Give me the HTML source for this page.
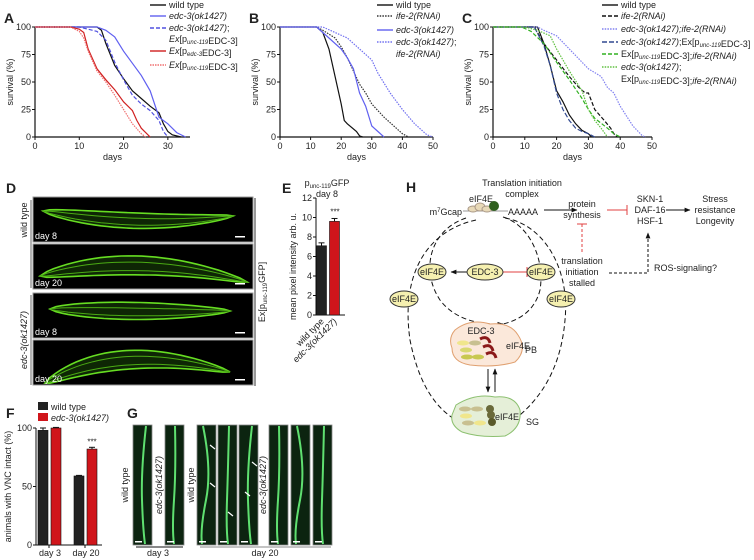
<!DOCTYPE html>
<html><head><meta charset="utf-8"><style>
body{margin:0;background:#fff}
svg{display:block;font-family:"Liberation Sans",sans-serif}
text{fill:#222}
</style></head><body>
<svg id="fig" width="754" height="560" viewBox="0 0 754 560">
<defs>
<marker id="ah" viewBox="0 0 10 10" refX="9" refY="5" markerWidth="6" markerHeight="6" orient="auto"><path d="M0,1 L10,5 L0,9 z" fill="#111"/></marker>
</defs>
<g id="A"></g>
<g id="B"></g>
<g id="C"></g>
<g id="D"></g>
<g id="E"></g>
<g id="F"></g>
<g id="G"></g>
<g id="H">
 <text x="406" y="192" font-size="14" font-weight="bold">H</text>
 <text x="522" y="186" font-size="9" text-anchor="middle">Translation initiation</text>
 <text x="522" y="197" font-size="9" text-anchor="middle">complex</text>
 <text x="481" y="202" font-size="9" text-anchor="middle">eIF4E</text>
 <text x="462" y="215" font-size="9" text-anchor="end">m<tspan font-size="6" dy="-3">7</tspan><tspan dy="3">Gcap</tspan></text>
 <line x1="463" y1="211" x2="508" y2="211" stroke="#999" stroke-width="1"/>
 <ellipse cx="473" cy="209" rx="5" ry="3" fill="#e8d9b8" stroke="#a98"/><ellipse cx="480" cy="207" rx="5" ry="4" fill="#e8d9b8" stroke="#a98"/><ellipse cx="487" cy="209" rx="5" ry="3" fill="#e8d9b8" stroke="#a98"/>
 <circle cx="494" cy="206" r="5" fill="#2f5f1f"/>
 <text x="508" y="215" font-size="9">AAAAA</text>
 <line x1="544" y1="210" x2="577" y2="210" stroke="#111" marker-end="url(#ah)"/>
 <text x="582" y="207" font-size="9" text-anchor="middle">protein</text>
 <text x="582" y="218" font-size="9" text-anchor="middle">synthesis</text>
 <line x1="607" y1="210" x2="627" y2="210" stroke="#e04040"/><line x1="627" y1="205" x2="627" y2="215" stroke="#e04040"/>
 <text x="650" y="202" font-size="9" text-anchor="middle">SKN-1</text>
 <text x="650" y="213" font-size="9" text-anchor="middle">DAF-16</text>
 <text x="650" y="224" font-size="9" text-anchor="middle">HSF-1</text>
 <line x1="666" y1="210" x2="690" y2="210" stroke="#111" marker-end="url(#ah)"/>
 <text x="715" y="202" font-size="9" text-anchor="middle">Stress</text>
 <text x="715" y="213" font-size="9" text-anchor="middle">resistance</text>
 <text x="715" y="224" font-size="9" text-anchor="middle">Longevity</text>
 <line x1="582" y1="224" x2="582" y2="252" stroke="#e04040" stroke-dasharray="3,2"/><line x1="577" y1="224" x2="587" y2="224" stroke="#e04040"/>
 <text x="582" y="264" font-size="9" text-anchor="middle">translation</text>
 <text x="582" y="275" font-size="9" text-anchor="middle">initiation</text>
 <text x="582" y="286" font-size="9" text-anchor="middle">stalled</text>
 <polyline points="609,273 648,273 648,233" fill="none" stroke="#111" stroke-dasharray="3,2" marker-end="url(#ah)"/>
 <text x="654" y="271" font-size="9">ROS-signaling?</text>
 <path d="M466,218 C430,230 420,270 440,300 C455,320 480,325 503,324" fill="none" stroke="#111" stroke-dasharray="5,3" marker-end="url(#ah)"/>
 <path d="M503,217 C530,225 545,260 540,290 C535,310 520,320 503,324" fill="none" stroke="#111" stroke-dasharray="5,3"/>
 <path d="M476,220 C430,230 400,270 410,340 C420,390 440,415 468,426" fill="none" stroke="#111" stroke-dasharray="5,3"/>
 <path d="M505,218 C545,225 570,270 565,320 C560,380 530,410 505,426" fill="none" stroke="#111" stroke-dasharray="5,3" marker-end="url(#ah)"/>
 <line x1="477" y1="272" x2="451" y2="272" stroke="#111" marker-end="url(#ah)"/>
 <line x1="502" y1="272" x2="527" y2="272" stroke="#e04040"/><line x1="527" y1="267" x2="527" y2="277" stroke="#e04040"/>
 <g font-size="9" text-anchor="middle">
  <ellipse cx="432" cy="272" rx="14" ry="8" fill="#f5f0b0" stroke="#333"/><text x="432" y="275">eIF4E</text>
  <ellipse cx="485" cy="272" rx="18" ry="8" fill="#f5f0b0" stroke="#333"/><text x="485" y="275">EDC-3</text>
  <ellipse cx="541" cy="272" rx="14" ry="8" fill="#f5f0b0" stroke="#333"/><text x="541" y="275">eIF4E</text>
  <ellipse cx="404" cy="299" rx="14" ry="8" fill="#f5f0b0" stroke="#333"/><text x="404" y="302">eIF4E</text>
  <ellipse cx="561" cy="299" rx="14" ry="8" fill="#f5f0b0" stroke="#333"/><text x="561" y="302">eIF4E</text>
 </g>
 <path d="M455,330 Q470,318 490,324 Q510,322 518,335 Q528,350 515,362 Q495,368 470,365 Q452,362 452,348 Q448,338 455,330z" fill="#fbe8da" stroke="#e0a070"/>
 <text x="481" y="334" font-size="9" text-anchor="middle">EDC-3</text>
 <ellipse cx="463" cy="343" rx="6" ry="2.5" fill="#f0e68c"/><ellipse cx="475" cy="343" rx="6" ry="2.5" fill="#c8c090"/><path d="M480,339 q8,-4 10,4" stroke="#8b1a1a" stroke-width="3" fill="none"/>
 <ellipse cx="466" cy="350" rx="6" ry="2.5" fill="#d8d870"/><path d="M483,347 q8,-4 10,4" stroke="#8b1a1a" stroke-width="3" fill="none"/>
 <ellipse cx="467" cy="357" rx="6" ry="2.5" fill="#c8c850"/><ellipse cx="478" cy="357" rx="6" ry="2.5" fill="#c8c850"/><path d="M486,354 q8,-4 10,4" stroke="#8b1a1a" stroke-width="3" fill="none"/>
 <text x="506" y="349" font-size="9">eIF4E</text><text x="525" y="353" font-size="9">PB</text>
 <line x1="488" y1="369" x2="488" y2="392" stroke="#111" marker-end="url(#ah)"/>
 <line x1="495" y1="392" x2="495" y2="369" stroke="#111" marker-end="url(#ah)"/>
 <path d="M456,405 Q475,393 495,397 Q515,395 520,410 Q522,428 505,436 Q480,438 462,432 Q450,425 452,415z" fill="#e5efd8" stroke="#8cc070"/>
 <ellipse cx="465" cy="409" rx="6" ry="2.5" fill="#c8c090"/><ellipse cx="477" cy="409" rx="6" ry="2.5" fill="#c8c090"/><circle cx="490" cy="409" r="4" fill="#6a6a3a"/>
 <ellipse cx="466" cy="416" rx="6" ry="2.5" fill="#f0e68c"/><circle cx="491" cy="415" r="4" fill="#6a6a3a"/>
 <ellipse cx="468" cy="423" rx="6" ry="2.5" fill="#c8c090"/><ellipse cx="480" cy="423" rx="6" ry="2.5" fill="#f0e68c"/><circle cx="492" cy="422" r="4" fill="#5a5a2a"/>
 <text x="495" y="420" font-size="9">eIF4E</text><text x="526" y="425" font-size="9">SG</text>
</g>
</svg>
<script>
const NS="http://www.w3.org/2000/svg";
function mk(p,tag,attrs,txt){const e=document.createElementNS(NS,tag);for(const k in attrs)e.setAttribute(k,attrs[k]);if(txt!==undefined)e.textContent=txt;p.appendChild(e);return e;}

// ---- survival data ----
const aDays=[0,10,20,30];
const survTicks=[0,25,50,75,100];
const aWT=[[0,100],[14,100],[15,97],[16,85],[18,65],[20,53],[22,42],[24,35],[26,28],[28,22],[29,12],[30,5],[31,2],[33,0]];
const aEdc=[[0,100],[14,100],[16,97],[18,91],[20,78],[22,67],[24,56],[26,42],[27,30],[28,18],[30,12],[32,4],[34,0]];
const aEdcResc=[[0,100],[10,100],[14,96],[16,88],[18,68],[20,52],[22,38],[24,30],[26,24],[28,15],[29,5],[30,0]];
const aEdcProm=[[0,100],[8,100],[10,98],[11,95],[12,80],[14,62],[16,52],[18,43],[20,32],[22,24],[23,15],[24,8],[26,0]];
const aUncProm=[[0,100],[8,100],[10,96],[11,90],[12,78],[14,60],[16,50],[18,38],[20,25],[22,12],[24,3],[25,0]];
const bcDays=[0,10,20,30,40,50];
const bWT=[[0,100],[12,100],[14,95],[16,80],[18,55],[20,30],[21,15],[22,12],[25,5],[26,1],[27,0]];
const bIfe=[[0,100],[12,100],[14,97],[18,90],[20,82],[22,72],[24,60],[26,48],[28,40],[30,30],[34,18],[38,8],[40,3],[42,0]];
const bEdc=[[0,100],[12,100],[14,95],[16,90],[20,80],[22,72],[24,62],[26,40],[28,28],[30,10],[32,5],[34,0]];
const bEdcIfe=[[0,100],[14,100],[18,95],[22,90],[26,80],[30,70],[32,58],[36,40],[40,25],[44,12],[48,2],[50,0]];
const cWT=[[0,100],[14,100],[16,85],[18,65],[20,42],[22,32],[24,20],[26,12],[28,6],[30,3],[31,0]];
const cIfe=[[0,100],[13,100],[16,85],[20,70],[24,55],[27,45],[29,40],[30,40],[32,25],[35,15],[37,8],[38,3],[39,0]];
const cEdcIfe=[[0,100],[14,100],[16,97],[20,92],[24,80],[28,68],[30,62],[34,55],[36,45],[38,40],[40,28],[44,10],[47,1],[48,0]];
const cEdcResc=[[0,100],[13,100],[16,83],[18,65],[20,40],[22,25],[24,15],[26,8],[28,5],[30,3],[32,0]];
const cRescIfe=[[0,100],[9,100],[12,96],[16,85],[20,68],[24,52],[28,35],[30,25],[32,17],[36,8],[38,3],[40,0]];
const cEdcRescIfe=[[0,100],[10,100],[14,97],[18,92],[20,80],[24,60],[28,42],[30,25],[32,15],[34,8],[36,0]];
// ---- bar data ----
const eCats=["wild type","edc-3(ok1427)"];
const eVals=[7.1,9.6];
const eErr=[0.3,0.3];
const eTicks=[0,2,4,6,8,10,12];
const fCats=["day 3","day 20"];
const fWT=[98,59];
const fEdc=[100,82];
const fWTerr=[2,0.5];
const fEdcErr=[0.5,1.5];
const fTicks=[0,50,100];

function survival(gid,letter,x0,x1,xmax,xticks,series,legend,legX){
  const g=document.getElementById(gid);
  const y0=137,y1=27;
  const sx=d=>x0+(x1-x0)*d/xmax, sy=v=>y0-(y0-y1)*v/100;
  mk(g,'text',{x:x0-31,y:23,'font-size':14,'font-weight':'bold'},letter);
  const ax=mk(g,'path',{d:`M${x0},${y1} V${y0} H${x1}`,fill:'none',stroke:'#111','stroke-width':1.2});
  
  survTicks.forEach(t=>{mk(g,'line',{x1:x0-3,x2:x0,y1:sy(t),y2:sy(t),stroke:'#111'});
    const tl=mk(g,'text',{x:x0-4,y:sy(t)+3,'font-size':9,'text-anchor':'end'},t);
    });
  xticks.forEach(t=>{mk(g,'line',{x1:sx(t),x2:sx(t),y1:y0,y2:y0+3,stroke:'#111'});
    const tl=mk(g,'text',{x:sx(t),y:y0+12,'font-size':9,'text-anchor':'middle'},t);
    });
  const yl=mk(g,'text',{x:0,y:0,'font-size':9,'text-anchor':'middle',transform:`translate(${x0-22},${(y0+y1)/2}) rotate(-90)`},'survival (%)');
  
  const xl=mk(g,'text',{x:(x0+x1)/2,y:160,'font-size':9,'text-anchor':'middle'},'days');
  
  series.forEach(s=>{
    const pl=mk(g,'polyline',{points:s.d.map(p=>sx(p[0])+','+sy(p[1])).join(' '),fill:'none',stroke:s.c,'stroke-width':1.2,'stroke-dasharray':s.dash||''});
    
  });
  legend.forEach(l=>{
    const le=mk(g,'g',{});
    
    if(l.c) mk(le,'line',{x1:legX,x2:legX+16,y1:l.y-3,y2:l.y-3,stroke:l.c,'stroke-width':1.4,'stroke-dasharray':l.dash||''});
    const t=mk(le,'text',{x:legX+19,y:l.y,'font-size':9});
    t.innerHTML=l.t;
  });
}
const it=s=>`<tspan font-style="italic">${s}</tspan>`;
const sub=s=>`<tspan font-size="6" dy="2">${s}</tspan><tspan dy="-2"></tspan>`;
survival('A','A',35,190,35,aDays,[
 {d:aWT,c:'#111',n:'series-wild-type'},
 {d:aEdc,c:'#6060f0',n:'series-edc-3'},
 {d:aEdcResc,c:'#5050e0',dash:'4,2',n:'series-edc-3-rescue'},
 {d:aEdcProm,c:'#d02020',n:'series-pedc-3-edc-3'},
 {d:aUncProm,c:'#f07070',dash:'1.5,1',n:'series-punc-119-edc-3'}],
 [{y:8,c:'#111',t:'wild type'},{y:19,c:'#6060f0',t:it('edc-3(ok1427)')},
  {y:31,c:'#5050e0',dash:'4,2',t:it('edc-3(ok1427)')+';'},{y:42,t:it('Ex')+'[p'+sub('<tspan font-style="italic">unc-119</tspan>')+'EDC-3]'},
  {y:54,c:'#d02020',t:it('Ex')+'[p'+sub('<tspan font-style="italic">edc-3</tspan>')+'EDC-3]'},
  {y:68,c:'#f07070',dash:'1.5,1',t:it('Ex')+'[p'+sub('<tspan font-style="italic">unc-119</tspan>')+'EDC-3]'}],150);
survival('B','B',280,433,50,bcDays,[
 {d:bWT,c:'#111',n:'series-wild-type'},
 {d:bIfe,c:'#333',dash:'1.5,1.2',n:'series-ife-2-rnai'},
 {d:bEdc,c:'#6060f0',n:'series-edc-3'},
 {d:bEdcIfe,c:'#7070f0',dash:'1.5,1.2',n:'series-edc-3-ife-2'}],
 [{y:8,c:'#111',t:'wild type'},{y:19,c:'#333',dash:'1.5,1.2',t:it('ife-2(RNAi)')},
  {y:33,c:'#6060f0',t:it('edc-3(ok1427)')},{y:45,c:'#7070f0',dash:'1.5,1.2',t:it('edc-3(ok1427)')+';'},{y:57,t:it('ife-2(RNAi)')}],377);
survival('C','C',493,652,50,bcDays,[
 {d:cWT,c:'#111',n:'series-wild-type'},
 {d:cIfe,c:'#111',dash:'4,2',n:'series-ife-2-rnai'},
 {d:cEdcIfe,c:'#8080f0',dash:'1.5,1.2',n:'series-edc-3-ife-2'},
 {d:cEdcResc,c:'#304890',dash:'5,2',n:'series-edc-3-rescue'},
 {d:cRescIfe,c:'#30b020',dash:'4,2',n:'series-rescue-ife-2'},
 {d:cEdcRescIfe,c:'#60c040',dash:'1.5,1.2',n:'series-edc-3-rescue-ife-2'}],
 [{y:8,c:'#111',t:'wild type'},{y:19,c:'#111',dash:'4,2',t:it('ife-2(RNAi)')},
  {y:32,c:'#8080f0',dash:'1.5,1.2',t:it('edc-3(ok1427);ife-2(RNAi)')},
  {y:45,c:'#304890',dash:'5,2',t:it('edc-3(ok1427)')+';Ex[p'+sub('<tspan font-style="italic">unc-119</tspan>')+'EDC-3]'},
  {y:57,c:'#30b020',dash:'4,2',t:'Ex[p'+sub('<tspan font-style="italic">unc-119</tspan>')+'EDC-3];'+it('ife-2(RNAi)')},
  {y:70,c:'#60c040',dash:'1.5,1.2',t:it('edc-3(ok1427)')+';'},
  {y:82,t:'Ex[p'+sub('<tspan font-style="italic">unc-119</tspan>')+'EDC-3];'+it('ife-2(RNAi)')}],602);

// ---- D images ----
function wormPath(p0,pc,p1,w){
  const N=30,top=[],bot=[];
  for(let i=0;i<=N;i++){const t=i/N;
    const x=(1-t)*(1-t)*p0[0]+2*(1-t)*t*pc[0]+t*t*p1[0];
    const y=(1-t)*(1-t)*p0[1]+2*(1-t)*t*pc[1]+t*t*p1[1];
    const hw=w*Math.pow(Math.sin(Math.PI*t),0.6)*(1-0.3*t);
    top.push(x.toFixed(1)+','+(y-hw).toFixed(1));bot.unshift(x.toFixed(1)+','+(y+hw).toFixed(1));}
  return 'M'+top.join(' L')+' L'+bot.join(' L')+'z';
}
(function(){
 const g=document.getElementById('D');
 mk(g,'text',{x:6,y:193,'font-size':14,'font-weight':'bold'},'D');
 const boxes=[[197,'day 8'],[244,'day 20'],[293,'day 8'],[340,'day 20']];
 const worms=[[[43,211],[140,228],[233,216],9],[[40,276],[140,252],[247,282],11],[[50,309],[140,312],[230,311],10],[[45,383],[120,342],[230,372],11]];
 boxes.forEach((b,i)=>{
  const im=mk(g,'g',{});
  
  
  mk(im,'rect',{x:33,y:b[0],width:220,height:45,fill:'#000',stroke:'#999','stroke-width':1});
  const w=worms[i];
  mk(im,'path',{d:wormPath(w[0],w[1],w[2],w[3]),fill:'#0e2605',stroke:'#66dd22','stroke-width':1.6});
  mk(im,'path',{d:wormPath(w[0],[w[1][0],w[1][1]+2],w[2],w[3]*0.45),fill:'none',stroke:'#4aaa14','stroke-width':1});
  mk(im,'text',{x:35,y:b[0]+42,'font-size':9,style:'fill:#fff'},b[1]);
  mk(im,'rect',{x:235,y:b[0]+39,width:10,height:1.5,fill:'#fff'});
 });
 mk(g,'line',{x1:31,x2:31,y1:200,y2:288,stroke:'#999','stroke-width':1.5});
 mk(g,'line',{x1:31,x2:31,y1:295,y2:385,stroke:'#999','stroke-width':1.5});
 mk(g,'line',{x1:255,x2:255,y1:198,y2:386,stroke:'#333','stroke-width':1});
 mk(g,'text',{'font-size':9,'text-anchor':'middle',transform:'translate(27,220) rotate(-90)'},'wild type');
 mk(g,'text',{'font-size':9,'text-anchor':'middle','font-style':'italic',transform:'translate(27,340) rotate(-90)'},'edc-3(ok1427)');
 const t=mk(g,'text',{'font-size':9,'text-anchor':'middle',transform:'translate(265,292) rotate(-90)'});
 t.innerHTML='Ex[p<tspan font-size="6" dy="2">unc-119</tspan><tspan dy="-2">GFP]</tspan>';
})();

// ---- E bar chart ----
(function(){
 const g=document.getElementById('E');
 const x0=316,y0=315,y1=198,sy=v=>y0-(y0-y1)*v/12;
 mk(g,'text',{x:282,y:193,'font-size':14,'font-weight':'bold'},'E');
 const t=mk(g,'text',{x:327,y:186,'font-size':9,'text-anchor':'middle'});
 t.innerHTML='p<tspan font-size="6" dy="2">unc-119</tspan><tspan dy="-2">GFP</tspan>';
 mk(g,'text',{x:327,y:197,'font-size':9,'text-anchor':'middle'},'day 8');
 mk(g,'path',{d:`M${x0},${y1} V${y0} H345`,fill:'none',stroke:'#111'});
 eTicks.forEach(v=>{mk(g,'line',{x1:x0-3,x2:x0,y1:sy(v),y2:sy(v),stroke:'#111'});
  const tl=mk(g,'text',{x:x0-4,y:sy(v)+3,'font-size':9,'text-anchor':'end'},v);
  });
 const yl=mk(g,'text',{'font-size':9,'text-anchor':'middle',transform:`translate(296,${(y0+y1)/2+10}) rotate(-90)`},'mean pixel intensity arb. u.');
 
 const cols=['#222','#d0151b'];
 eVals.forEach((v,i)=>{
  const bx=x0+(i?13:0)+0.5;
  const r=mk(g,'rect',{x:bx,y:sy(v),width:10,height:y0-sy(v),fill:cols[i],stroke:'#111','stroke-width':0.6});
  
  mk(g,'line',{x1:bx+5,x2:bx+5,y1:sy(v),y2:sy(v+eErr[i]),stroke:'#111'});
  mk(g,'line',{x1:bx+2,x2:bx+8,y1:sy(v+eErr[i]),y2:sy(v+eErr[i]),stroke:'#111'});
  const lt=mk(g,'text',{'font-size':9,'text-anchor':'end','font-style':i?'italic':'normal',transform:`translate(${bx+8},${y0+7}) rotate(-45)`},eCats[i]);
  
 });
 mk(g,'text',{x:x0+19,y:sy(eVals[1]+eErr[1])-4,'font-size':8,'text-anchor':'middle'},'***');
})();

// ---- F bar chart ----
(function(){
 const g=document.getElementById('F');
 const x0=36,y0=545,y1=428,sy=v=>y0-(y0-y1)*v/100;
 mk(g,'text',{x:6,y:418,'font-size':14,'font-weight':'bold'},'F');
 mk(g,'rect',{x:38,y:402,width:10,height:8,fill:'#222'});
 mk(g,'text',{x:51,y:410,'font-size':9},'wild type');
 mk(g,'rect',{x:38,y:413,width:10,height:8,fill:'#d0151b'});
 mk(g,'text',{x:51,y:421,'font-size':9,'font-style':'italic'},'edc-3(ok1427)');
 mk(g,'path',{d:`M${x0},${y1} V${y0} H102`,fill:'none',stroke:'#111'});
 fTicks.forEach(v=>{mk(g,'line',{x1:x0-3,x2:x0,y1:sy(v),y2:sy(v),stroke:'#111'});
  const tl=mk(g,'text',{x:x0-4,y:sy(v)+3,'font-size':9,'text-anchor':'end'},v);
  });
 const yl=mk(g,'text',{'font-size':9,'text-anchor':'middle',transform:`translate(11,${(y0+y1)/2}) rotate(-90)`},'animals with VNC intact (%)');
 
 const groupX=[38,74];
 fCats.forEach((c,i)=>{
  [[fWT,fWTerr,'#222',0],[fEdc,fEdcErr,'#d0151b',13]].forEach(s=>{
   const v=s[0][i],e=s[1][i],bx=groupX[i]+s[3];
   const r=mk(g,'rect',{x:bx,y:sy(v),width:10,height:y0-sy(v),fill:s[2],stroke:'#111','stroke-width':0.6});
   
   mk(g,'line',{x1:bx+5,x2:bx+5,y1:sy(v),y2:sy(v+e),stroke:'#111'});
   mk(g,'line',{x1:bx+2,x2:bx+8,y1:sy(v+e),y2:sy(v+e),stroke:'#111'});
  });
  mk(g,'line',{x1:groupX[i]+11,x2:groupX[i]+11,y1:y0,y2:y0+3,stroke:'#111'});
  const tl=mk(g,'text',{x:groupX[i]+12,y:556,'font-size':9,'text-anchor':'middle'},c);
  
 });
 mk(g,'text',{x:groupX[1]+18,y:sy(fEdc[1]+fEdcErr[1])-3,'font-size':8,'text-anchor':'middle'},'***');
})();

// ---- G images ----
(function(){
 const g=document.getElementById('G');
 mk(g,'text',{x:127,y:418,'font-size':14,'font-weight':'bold'},'G');
 const xs=[133,165,197,218,239,269,291,313];
 xs.forEach((x,i)=>{
  const im=mk(g,'g',{});
  
  
  mk(im,'rect',{x:x,y:425,width:19,height:120,fill:'#0c2410',stroke:'#888','stroke-width':0.8});
  const w=[4,1,-3,2][i%4];
  mk(im,'path',{d:`M${x+9+w},426 Q${x+12-w},470 ${x+9},500 T${x+8+w},544`,fill:'none',stroke:'#5fe070','stroke-width':2});
  mk(im,'rect',{x:x+2,y:541,width:7,height:1.5,fill:'#fff'});
 });
 mk(g,'text',{'font-size':9,'text-anchor':'middle',transform:'translate(128,485) rotate(-90)'},'wild type');
 mk(g,'text',{'font-size':9,'text-anchor':'middle','font-style':'italic',transform:'translate(162,485) rotate(-90)'},'edc-3(ok1427)');
 mk(g,'text',{'font-size':9,'text-anchor':'middle',transform:'translate(194,485) rotate(-90)'},'wild type');
 mk(g,'text',{'font-size':9,'text-anchor':'middle','font-style':'italic',transform:'translate(266,485) rotate(-90)'},'edc-3(ok1427)');
 mk(g,'line',{x1:136,x2:183,y1:547,y2:547,stroke:'#111'});
 mk(g,'text',{x:158,y:556,'font-size':9,'text-anchor':'middle'},'day 3');
 mk(g,'line',{x1:200,x2:331,y1:547,y2:547,stroke:'#888'});
 mk(g,'text',{x:265,y:556,'font-size':9,'text-anchor':'middle'},'day 20');
 [[210,445],[210,483],[228,512],[252,462],[245,492]].forEach(a=>{
  mk(g,'line',{x1:a[0]+5,y1:a[1]+4,x2:a[0],y2:a[1],stroke:'#fff','stroke-width':1.2});
 });
})();
</script>
</body></html>
